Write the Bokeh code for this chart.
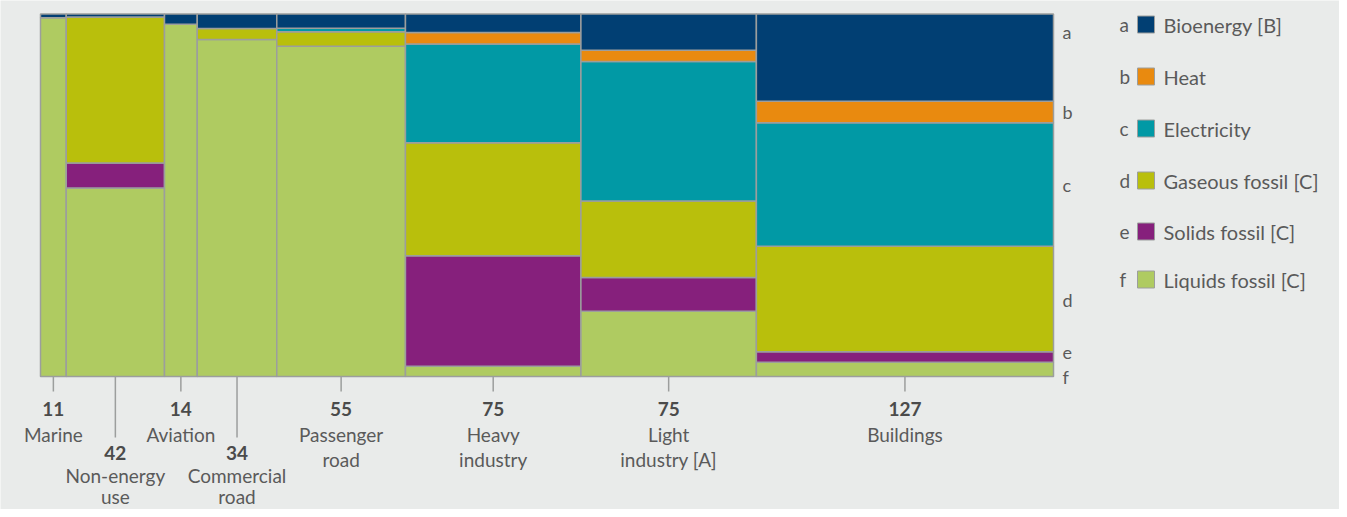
from bokeh.plotting import figure
from bokeh.models import Range1d
from bokeh.core.properties import value
from bokeh.embed import file_html
from bokeh.resources import INLINE

# ---------------- data ----------------
sectors_line1 = ["Marine", "Non-energy", "Aviation", "Commercial", "Passenger",
                 "Heavy", "Light", "Buildings"]
sectors_line2 = ["", "use", "", "road", "road", "industry", "industry [A]", ""]
totals = [11, 42, 14, 34, 55, 75, 75, 127]

carriers = ["Bioenergy [B]", "Heat", "Electricity", "Gaseous fossil [C]", "Solids fossil [C]", "Liquids fossil [C]"]
letters = ["a", "b", "c", "d", "e", "f"]
colors = ["#013f73", "#e98a0f", "#0199a5", "#b9bf0c", "#86207c", "#afcb61"]

# shares (%) per sector, bottom-to-top order: liquids, solids, gaseous, electricity, heat, bioenergy
liquids = [99.0, 52.0, 97.2, 93.0, 91.1, 2.8, 18.0, 3.9]
solids = [0.0, 6.9, 0.0, 0.0, 0.0, 30.5, 9.3, 2.9]
gaseous = [0.0, 40.3, 0.0, 3.0, 4.0, 31.2, 21.1, 29.1]
electricity = [0.0, 0.0, 0.0, 0.0, 1.0, 27.2, 38.5, 34.1]
heat = [0.0, 0.0, 0.0, 0.0, 0.0, 3.2, 3.1, 5.9]
bioenergy = [1.0, 0.8, 2.8, 4.0, 3.9, 5.1, 10.0, 24.1]

label_row = [0, 1, 0, 1, 0, 0, 0, 0]          # staggered labels
side_label_y = [95.1, 73.1, 52.9, 21.0, 6.6, 0.0]  # a..f positions at right edge (share units)

# ---------------- layout (pixels) ----------------
W, H = 1339, 509
L_PX, R_PX, T_PX, B_PX = 40, 1053, 13.5, 376
total = sum(totals)
sx = (R_PX - L_PX) / total
sy = (B_PX - T_PX) / 100.0

def px_x(px):
    return (px - L_PX) / sx

def px_y(px):
    return (B_PX - px) / sy

p = figure(width=W, height=H, output_backend="svg", toolbar_location=None,
           x_range=Range1d(px_x(0), px_x(W)), y_range=Range1d(px_y(H), px_y(0)),
           min_border=0, background_fill_color="#e9ebea", border_fill_color="#e9ebea")
p.axis.visible = False
p.grid.visible = False
p.outline_line_color = None

# ---------------- mosaic ----------------
stack = [liquids, solids, gaseous, electricity, heat, bioenergy]
stack_colors = colors[::-1]
lefts, rights, bottoms, tops, fills = [], [], [], [], []
x0 = 0
for i, t in enumerate(totals):
    y0 = 0.0
    for s, c in zip(stack, stack_colors):
        v = s[i]
        if v > 0:
            lefts.append(x0); rights.append(x0 + t)
            bottoms.append(y0); tops.append(y0 + v); fills.append(c)
        y0 += v
    x0 += t
p.quad(left=lefts, right=rights, bottom=bottoms, top=tops, fill_color=fills,
       line_color="#9c9e9d", line_width=1.5)

# ---------------- x labels ----------------
centers = []
acc = 0
for t in totals:
    centers.append(acc + t / 2)
    acc += t

tick_end = [px_y(391 if r == 0 else 437) for r in label_row]
p.segment(x0=centers, y0=[0] * len(centers), x1=centers, y1=tick_end,
          line_color="#9c9e9d", line_width=1.5)

num_y = [px_y(408 if r == 0 else 452) for r in label_row]
name1_y = [px_y(434 if r == 0 else 475) for r in label_row]
name2_y = [px_y(459 if r == 0 else 496) for r in label_row]
p.text(x=centers, y=num_y, text=[str(t) for t in totals], text_align="center",
       text_baseline="middle", text_font=value("Lato"), text_font_style="bold",
       text_font_size="19px", text_color="#4b4b4b")
p.text(x=centers, y=name1_y, text=sectors_line1, text_align="center", text_baseline="middle",
       text_font=value("Lato"), text_font_size="19px", text_color="#5a5a5a")
p.text(x=centers, y=name2_y, text=sectors_line2, text_align="center", text_baseline="middle",
       text_font=value("Lato"), text_font_size="19px", text_color="#5a5a5a")

# ---------------- side letters ----------------
p.text(x=[px_x(1062)] * 6, y=side_label_y, text=letters, text_align="left",
       text_baseline="middle", text_font=value("Lato"), text_font_size="18px",
       text_color="#5a5a5a")

# ---------------- legend ----------------
leg_y = [px_y(v) for v in [24, 76, 128, 180, 231, 279]]
p.text(x=[px_x(1119)] * 6, y=leg_y, text=letters, text_align="left",
       text_baseline="middle", text_font=value("Lato"), text_font_size="19px",
       text_color="#5a5a5a")
p.rect(x=[px_x(1145.5)] * 6, y=leg_y, width=17, height=17, width_units="screen",
       height_units="screen", fill_color=colors, line_color="#9c9e9d", line_width=1)
p.text(x=[px_x(1163)] * 6, y=leg_y, text=carriers, text_align="left",
       text_baseline="middle", text_font=value("Lato"), text_font_size="20px",
       text_color="#5a5a5a")

open("out.html", "w").write(file_html(p, INLINE))
